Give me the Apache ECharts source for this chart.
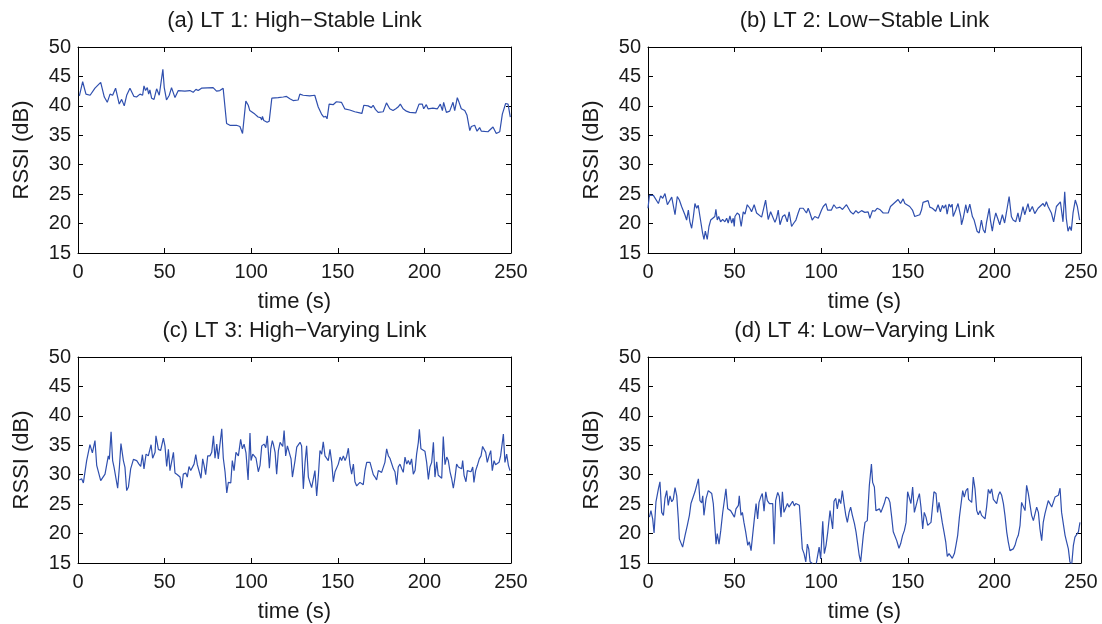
<!DOCTYPE html>
<html>
<head>
<meta charset="utf-8">
<script src="https://cdn.jsdelivr.net/npm/echarts@6/dist/echarts.min.js"></script>
<style>
html,body{margin:0;padding:0;background:#fff;}
#chart{width:1102px;height:624px;}
</style>
</head>
<body>
<div id="chart"></div>
<script>
// ---------- data ----------
var panelTitles = ['(a) LT 1: High\u2212Stable Link', '(b) LT 2: Low\u2212Stable Link',
                   '(c) LT 3: High\u2212Varying Link', '(d) LT 4: Low\u2212Varying Link'];
var xTickValues = [0, 50, 100, 150, 200, 250];
var yTickValues = [15, 20, 25, 30, 35, 40, 45, 50];

var timeA = [0.8,2.7,4.6,7.0,8.0,9.8,13.1,15.2,16.2,16.9,18.5,20,21.7,23.8,25.2,26.7,28.1,30,31,32.3,33.8,35.8,36.7,37.3,38.1,39,40,40.8,41.5,42.5,43.9,45.4,46.9,49.0,49.8,51.1,52.7,54,56,57.9,61.7,64.6,66.5,68.1,69.4,71.3,78,79,80,81.9,83.8,85.8,87.7,91.5,93.5,95,96.9,98.3,99.2,102.1,104,105.4,106.1,106.5,107.3,109.2,110.4,111.9,115.6,118.5,120.4,122.3,124.2,127.1,128.1,130,133.8,136.7,138.7,140.6,141.9,143.1,143.8,145,147.3,149.2,152.1,154,156.9,159.8,162.7,163.9,165,167.5,169.4,170.4,171.7,173.3,176.2,178.1,180,181.9,183.5,184.8,186.1,187.7,189.6,191.5,195,196.9,198.8,199.6,201.1,202.1,204.9,207.5,209.2,210.4,211.1,212.7,214.6,216.5,217.5,219,220,221.3,223.3,224.6,226.2,227.1,229,230.4,231.9,232.9,236.7,239.6,241.5,243.5,245,246.9,248.3,249.6];
var rssiA = [41.7,44.1,42.0,41.8,41.7,43.0,44.0,41.5,41.2,40.6,42.0,41.8,43.0,40.3,41.1,40.0,41.8,43.0,43.3,41.6,41.5,42.0,42.3,41.8,43.4,42.6,43.1,42.0,42.7,41.3,41.1,42.9,41.8,46.2,43.1,41.0,41.8,43.1,41.4,42.6,42.5,42.6,42.3,42.8,42.6,43.0,43.1,42.9,42.5,42.6,43.0,37.0,36.7,36.7,36.5,35.3,40.8,40.1,39.2,38.6,38.1,38.0,37.6,38.2,37.5,37.2,37.4,41.3,41.4,41.5,41.6,41.2,40.9,41.0,42.0,41.8,41.7,41.8,39.8,38.6,38.1,38.2,37.8,40.3,40.2,40.7,40.6,39.5,39.3,39.0,38.8,38.7,40.1,40.0,39.7,40.1,39.4,38.9,39.0,40.5,39.5,39.2,39.5,39.8,40.3,39.5,39.1,38.9,38.8,40.3,40.3,39.5,40.2,39.5,39.6,39.5,40.3,39.2,40.6,38.9,39.1,40.6,39.2,41.4,40.6,39.5,39.2,38.4,35.8,36.5,36.7,35.7,36.3,35.7,35.6,36.4,35.3,35.6,38.6,40.4,40.3,38.1];

var timeB = [0,0.8,3.1,4,6,7.3,8.5,9.8,11.2,12.3,13.7,15.6,16.9,18.1,19.4,20.4,21.3,22.3,23.3,24.2,25.2,26.2,27.1,28.1,29.0,30,31.5,32.3,33.1,34.2,35.2,36.2,37.3,38.6,39.2,40,40.8,41.9,43.1,44.4,45.4,46.3,47.3,48.3,49.2,49.8,50.2,51.5,52.7,53.8,55,56,57.3,58.8,59.8,61.3,62.7,63.7,65.6,66.5,67.9,69.4,70.8,71.9,73.3,74.2,75.2,76.2,77.7,79,80.4,81.5,82.9,84.2,85.4,86.7,87.7,89.6,90.6,91.5,92.5,93.5,94.8,96.3,98.3,100.2,101.2,102.7,103.7,104.6,105.9,107.3,108.8,110.8,112.3,114.6,115.6,116.9,118.5,120,121.4,123.3,125.2,127.1,128.1,129.6,131,132.3,133.8,135.8,138.7,140,140.6,144.4,145.8,147.3,148.3,149.2,151.1,152.7,154,155,156.9,157.9,158.8,159.8,161.7,162.7,164.2,166.1,167.5,168.8,170,170.8,171.9,172.7,173.8,174.8,175.6,176.2,177.7,179,180,180.6,181,182,183.5,184.4,185.8,187.3,188.3,189.2,190,191.2,191.9,192.5,193.5,194.6,195.4,197,197.7,198.8,199.6,200.8,202.1,203.1,204.6,205.9,206.9,208.5,209.8,210.8,212.3,213.6,214.6,216.5,217.5,219.4,220.4,221.9,223.3,225.2,228.1,229,230,231,232.9,234.2,235.8,238.1,239.6,240.6,241.5,242.5,243.5,244.4,245.4,246.7,247.9,249.2];
var rssiB = [22.6,24.8,24.8,24.5,23.4,24.7,24.3,25.1,23.2,22.9,24.5,21.5,24.6,24.0,22.9,22.6,21.5,20.6,22.3,20.3,19.2,21.2,23.4,22.6,23.1,21.2,18.4,17.3,18.7,17.3,19.5,20.6,20.9,21.2,22.4,20.6,21.2,20.3,20.7,20.3,20.9,20.1,21.3,20.1,20.9,19.5,21.2,21.8,21.5,19.5,22.0,21.6,23.2,22.6,22.0,23.2,21.8,21.5,21.1,21.2,24.0,20.7,22.0,22.2,20.2,20.9,22.3,19.8,21.2,21.5,20.3,22.0,19.5,20.1,20.6,21.8,22.6,22.6,22.9,21.8,22.6,21.8,20.6,21.2,20.9,22.3,22.9,23.4,22.3,22.6,22.3,23.2,22.6,22.8,22.4,23.2,22.9,22.0,21.6,22.2,21.8,22.2,21.9,22.0,20.9,22.2,22.1,22.6,22.4,21.8,21.8,22.9,22.6,24.1,23.4,24.2,23.4,23.7,22.9,22.3,21.2,20.9,21.5,22.3,23.6,23.4,23.9,22.8,22.6,22.1,23.2,22.0,23.1,22.6,23.2,21.6,23.3,22.8,23.3,21.2,22.3,23.4,22.0,21.2,19.8,20.9,23.2,21.8,23.3,21.2,20.6,20.3,18.7,18.4,18.1,20.6,19.0,18.4,20.1,22.6,20.6,18.7,20.3,21.8,20.7,19.8,21.5,20.1,21.8,24.6,21.2,20.6,20.3,21.8,20.3,22.9,21.5,23.4,22.0,22.9,21.7,22.6,23.4,22.9,23.7,22.9,21.8,20.3,22.9,23.7,20.3,25.4,20.9,18.7,19.5,18.8,21.8,24.0,22.9,20.6];

var timeC = [0.8,2.1,3.1,4.0,5.0,6.9,8.3,9.8,10.8,11.7,13.1,14.2,15.6,16.6,17.5,18.1,19.1,20.0,20.8,21.9,22.9,23.9,24.8,26.2,27.1,28.1,29.1,30.4,32.0,33.9,35.2,36.2,37.2,38.1,39.3,40.6,42.2,43.1,44.5,45.0,46.4,47.7,49.3,50.2,51.2,52.2,53.1,54.1,55.1,56.0,57.4,58.9,59.9,60.8,62.2,63.1,64.1,65.1,66.2,67.0,68.0,68.9,69.9,71.0,72.0,72.8,73.7,74.9,76.2,77.2,78.2,79.1,80.1,81.0,82.0,83.0,83.9,84.9,85.9,86.8,88.2,89.1,90.1,91.2,92.6,93.9,94.9,95.9,97.0,98.2,99.3,99.9,100.9,101.8,102.8,104.1,105.1,106.1,107.4,108.4,109.3,110.5,111.3,112.2,112.8,113.8,114.7,115.7,116.7,118.2,119.0,119.9,120.9,122.0,123.0,123.8,124.4,125.3,126.3,127.2,128.2,129.1,130.1,131.1,132.0,133.0,133.9,134.9,135.9,136.8,137.8,138.8,139.7,140.7,141.6,142.6,143.6,144.5,145.5,146.5,147.4,148.4,149.3,150.3,151.3,152.2,153.2,154.2,155.1,156.1,157.0,158.0,159.0,159.9,160.9,161.9,162.8,163.8,164.7,165.7,166.7,167.6,168.6,169.6,170.5,171.5,172.4,173.4,174.4,175.3,176.3,177.2,178.2,179.2,180.1,181.1,182.1,183.0,184.0,184.9,185.9,186.9,187.8,188.8,189.8,190.7,191.7,192.6,193.6,194.6,195.5,196.5,197.1,198.0,199.0,200.3,201.3,202.3,203.2,204.2,205.2,206.1,207.1,208.0,209.0,210.0,210.9,211.9,212.9,213.8,214.8,215.7,216.7,217.7,218.6,219.6,220.5,221.5,222.1,222.9,224.0,224.8,225.7,226.9,227.9,228.6,229.6,230.6,231.7,232.7,233.6,234.4,235.4,236.3,237.3,238.3,239.2,240.2,241.1,242.1,243.1,244.0,245.0,245.6,246.5,247.5,248.5,249.4];
var rssiC = [29.1,29.3,28.6,28.8,32.4,35.1,33.7,35.8,31.6,31.4,29.0,28.8,30.1,29.9,33.2,32.6,37.3,32.4,31.3,31.1,27.7,31.3,35.3,32.4,31.3,27.3,27.9,31.0,32.6,32.4,31.8,31.4,33.4,31.0,33.5,33.2,35.1,32.8,33.8,36.6,34.3,34.1,36.2,34.9,31.4,34.3,30.7,30.9,33.8,30.3,30.0,29.6,27.7,30.1,30.3,29.6,31.4,30.7,31.0,31.8,33.4,31.7,32.0,29.4,32.7,31.6,30.0,33.2,33.2,33.8,36.6,32.8,35.2,32.7,32.5,37.8,32.8,30.5,26.9,28.7,28.6,32.4,30.7,33.8,33.2,36.0,34.4,35.2,33.7,29.1,37.1,32.4,33.5,33.2,32.8,30.5,31.6,34.9,35.2,34.6,36.6,31.1,34.4,35.8,35.2,33.8,30.1,34.1,35.5,34.8,37.5,33.2,34.9,35.0,32.7,29.6,29.4,32.4,34.7,34.6,35.5,34.9,27.6,32.1,34.9,29.6,28.7,27.8,27.8,30.7,26.4,29.9,34.1,33.5,35.6,33.2,33.0,32.4,34.3,32.1,28.8,30.5,30.7,31.8,33.0,32.4,33.2,32.4,33.1,34.5,31.7,30.1,31.8,28.8,28.1,27.8,28.7,28.8,28.3,30.7,32.1,32.4,32.1,31.8,30.0,29.6,29.1,30.7,30.5,30.4,30.3,32.1,34.4,33.2,32.8,33.0,31.0,30.5,28.3,31.3,31.8,31.0,30.4,33.0,31.8,32.4,31.7,32.7,30.1,30.7,33.5,35.5,37.7,34.4,34.1,34.0,32.1,29.2,31.3,32.1,35.5,29.6,32.2,29.9,30.0,29.4,36.5,31.7,33.0,32.4,30.5,29.4,27.7,29.6,31.8,31.3,31.6,31.0,32.4,29.9,28.8,30.7,31.0,30.5,31.3,28.7,30.7,31.6,32.7,33.2,34.8,34.5,33.8,32.1,33.2,34.1,30.7,32.4,31.7,31.4,32.1,33.2,33.4,36.9,32.1,33.5,31.6,30.7];

var timeD = [0.8,1.7,2.7,3.5,4.6,6.0,6.9,7.9,8.9,9.8,10.8,11.7,12.7,13.7,14.6,15.6,16.6,17.5,18.1,19.1,20.0,21.4,22.7,23.9,24.8,25.8,27.1,28.1,29.1,30.0,31.0,31.6,32.3,33.5,34.8,35.8,36.8,37.7,38.7,39.3,40.0,41.0,42.0,43.1,44.1,45.0,46.0,46.8,47.7,48.7,49.9,50.8,52.2,52.7,53.7,54.5,55.4,56.4,57.6,58.5,59.5,60.4,61.4,62.4,63.3,64.1,65.1,66.0,67.0,68.0,68.9,70.1,71.0,72.0,72.8,73.7,74.9,75.8,76.8,77.6,78.5,79.5,80.5,81.4,82.4,83.5,84.5,85.3,86.4,87.4,88.2,89.1,90.1,91.1,92.0,92.8,93.6,94.1,94.9,95.9,96.8,97.8,98.8,99.7,100.9,101.8,102.8,103.8,105.1,106.1,106.6,107.4,108.4,109.3,110.3,111.3,112.2,113.2,114.2,115.1,116.1,117.0,118.0,119.2,120.1,120.9,121.9,122.8,123.8,124.3,125.3,126.6,127.8,129.0,129.7,130.7,131.6,132.6,133.6,134.5,135.5,136.4,137.4,138.8,139.7,140.7,141.6,142.6,143.6,144.9,145.9,147.0,148.0,149.0,149.9,150.9,151.8,152.8,153.8,154.7,155.7,156.7,157.6,158.6,159.5,160.5,161.5,162.4,163.4,164.4,165.1,166.3,167.2,168.0,169.0,169.9,170.9,171.9,172.8,173.8,174.7,175.7,176.9,177.8,178.8,179.8,180.7,181.7,182.6,183.6,184.6,185.1,185.9,186.9,187.8,188.8,189.8,190.7,191.7,192.6,193.6,194.6,195.5,196.5,197.5,198.4,199.4,200.3,201.3,202.3,203.2,204.2,205.2,206.1,207.1,208.0,209.0,210.0,210.9,211.9,212.9,213.8,214.8,215.7,216.7,217.7,218.6,219.6,220.5,221.5,222.5,223.4,224.4,225.4,226.3,227.3,228.2,229.2,230.2,231.1,232.1,233.1,234.0,235.0,235.9,236.9,237.9,238.8,239.8,240.8,241.7,242.7,243.6,244.6,245.6,246.5,247.5,248.5,249.4];
var rssiD = [22.8,23.9,22.5,20.1,25.4,27.6,28.8,23.6,23.1,26.0,27.3,24.8,26.4,25.4,25.8,27.8,26.4,22.5,19.1,18.8,17.7,19.7,21.4,23.1,25.1,24.9,27.1,26.8,29.3,25.6,25.2,26.4,23.1,25.9,27.3,27.3,26.8,25.1,24.8,18.2,20.0,18.2,20.5,23.5,23.5,27.6,24.2,24.2,23.9,23.6,22.8,24.2,24.8,26.4,23.1,23.6,21.9,20.3,18.0,18.6,17.1,19.7,22.5,25.1,22.5,25.3,26.2,26.8,23.8,27.1,25.6,25.1,24.8,25.1,18.2,25.6,27.0,26.3,22.8,27.1,23.6,23.4,25.1,24.5,24.8,25.5,24.7,25.1,24.9,24.8,21.4,17.4,16.6,15.2,18.2,17.4,15.2,15.5,14.9,15.2,14.3,14.6,17.7,15.7,22.1,16.6,18.0,20.3,23.9,23.6,20.8,25.5,26.0,24.2,25.9,25.1,27.3,25.1,23.1,21.9,23.6,24.5,23.1,21.7,20.3,18.6,16.4,15.2,14.9,19.7,21.9,22.2,28.2,31.8,28.7,27.9,23.9,23.9,24.2,23.6,23.8,25.1,26.2,26.0,25.3,22.8,20.3,20.0,18.8,17.5,18.3,19.7,20.5,21.9,27.1,26.8,25.1,27.9,23.6,23.6,25.8,26.8,24.5,20.8,23.6,22.8,21.4,21.1,21.9,22.1,27.1,26.8,23.6,25.3,23.6,21.9,20.3,18.6,16.1,16.6,16.4,15.8,16.6,18.0,19.7,22.8,22.8,27.3,26.2,27.3,27.7,25.8,25.6,25.3,29.6,27.6,23.9,23.2,23.9,23.1,22.8,22.5,24.5,27.5,26.8,27.6,25.8,25.6,25.1,26.5,27.1,26.5,25.1,23.1,20.3,18.6,17.1,17.1,17.4,18.0,19.1,19.7,21.4,25.3,25.1,23.9,28.2,26.8,26.6,23.1,22.2,22.1,24.5,23.6,20.8,18.8,21.9,23.4,23.6,25.6,25.6,24.5,25.3,26.2,26.0,26.5,27.7,23.6,23.6,19.7,18.6,17.4,15.2,14.6,18.0,19.4,19.1,20.3,21.9];

// ---------- chart ----------
var panels = [
  {t: timeA, v: rssiA}, {t: timeB, v: rssiB}, {t: timeC, v: rssiC}, {t: timeD, v: rssiD}
];
var FONT = '"Liberation Sans", Arial, Helvetica, sans-serif';
var TXT = '#1a1a1a';
var gridPos = [
  {left: 78, top: 47}, {left: 648, top: 47},
  {left: 78, top: 357}, {left: 648, top: 357}
];
var GW = 433, GH = 206;

var grids = [], xAxes = [], yAxes = [], series = [], graphics = [];
gridPos.forEach(function (g, i) {
  grids.push({left: g.left, top: g.top, width: GW, height: GH, containLabel: false});
  var lineStyle = {color: '#000', width: 1};
  var tick = {show: true, inside: true, length: 5, lineStyle: {color: '#000', width: 1}};
  xAxes.push({
    gridIndex: i, type: 'value', position: 'bottom',
    min: xTickValues[0], max: xTickValues[xTickValues.length - 1], interval: 50,
    axisLine: {show: true, onZero: false, lineStyle: lineStyle},
    axisTick: tick, splitLine: {show: false},
    axisLabel: {show: true, fontSize: 20, fontFamily: FONT, color: TXT, margin: 9},
    name: 'time (s)', nameLocation: 'middle', nameGap: 38,
    nameTextStyle: {fontSize: 22, fontFamily: FONT, color: TXT}
  });
  xAxes.push({
    gridIndex: i, type: 'value', position: 'top',
    min: xTickValues[0], max: xTickValues[xTickValues.length - 1], interval: 50,
    axisLine: {show: true, onZero: false, lineStyle: lineStyle},
    axisTick: tick, splitLine: {show: false}, axisLabel: {show: false}
  });
  yAxes.push({
    gridIndex: i, type: 'value', position: 'left',
    min: yTickValues[0], max: yTickValues[yTickValues.length - 1], interval: 5,
    axisLine: {show: true, onZero: false, lineStyle: lineStyle},
    axisTick: tick, splitLine: {show: false},
    axisLabel: {show: true, fontSize: 20, fontFamily: FONT, color: TXT, margin: 7},
    name: 'RSSI (dB)', nameLocation: 'middle', nameGap: 45, nameRotate: 90,
    nameTextStyle: {fontSize: 22, fontFamily: FONT, color: TXT}
  });
  yAxes.push({
    gridIndex: i, type: 'value', position: 'right',
    min: yTickValues[0], max: yTickValues[yTickValues.length - 1], interval: 5,
    axisLine: {show: true, onZero: false, lineStyle: lineStyle},
    axisTick: tick, splitLine: {show: false}, axisLabel: {show: false}
  });
  var p = panels[i];
  var data = p.t.map(function (t, k) { return [t, p.v[k]]; });
  series.push({
    type: 'line', xAxisIndex: 2 * i, yAxisIndex: 2 * i, data: data,
    showSymbol: false, symbol: 'none', clip: true, animation: false,
    lineStyle: {color: '#2f4fae', width: 1.2}
  });
  graphics.push({
    type: 'text', x: g.left + GW / 2, y: g.top - 26,
    style: {text: panelTitles[i], font: '22px ' + FONT, fill: TXT,
            textAlign: 'center', textVerticalAlign: 'middle'}
  });
});

var chart = echarts.init(document.getElementById('chart'), null, {renderer: 'canvas'});
chart.setOption({
  animation: false,
  backgroundColor: '#ffffff',
  grid: grids, xAxis: xAxes, yAxis: yAxes, series: series, graphic: graphics
});
</script>
</body>
</html>
